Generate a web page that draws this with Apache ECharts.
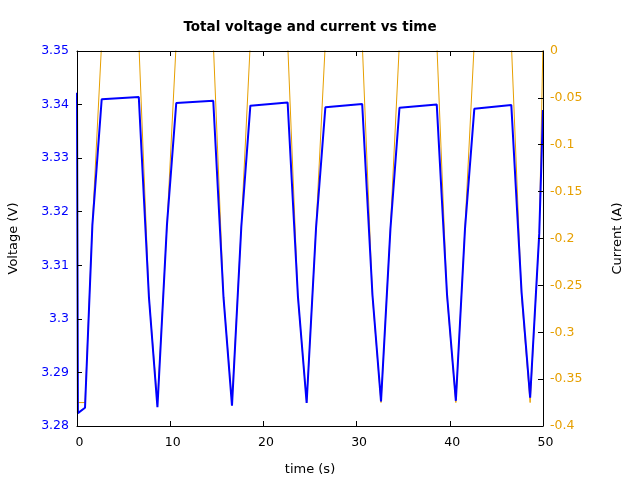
<!DOCTYPE html>
<html>
<head>
<meta charset="utf-8">
<script src="https://cdn.jsdelivr.net/npm/echarts@6/dist/echarts.min.js"></script>
<style>html,body{margin:0;padding:0;background:#fff}#c{width:640px;height:480px}</style>
</head>
<body>
<div id="c"></div>
<script>
var timeS = [0, 0.1, 0.86, 1.65, 2.65, 6.63, 7.72, 8.63, 9.65, 10.65, 14.62, 15.72, 16.63, 17.63, 18.6, 22.6, 23.7, 24.64, 25.65, 26.65, 30.6, 31.7, 32.62, 33.63, 34.6, 38.6, 39.7, 40.65, 41.63, 42.63, 46.6, 47.7, 48.62, 49.6, 50];
var voltage = [3.3422, 3.2824, 3.2834, 3.3175, 3.3410, 3.3414, 3.3040, 3.2835, 3.3175, 3.3403, 3.3407, 3.3040, 3.2838, 3.3172, 3.3398, 3.3404, 3.3043, 3.2843, 3.3170, 3.3395, 3.3401, 3.3045, 3.2846, 3.3168, 3.3394, 3.3400, 3.3046, 3.2847, 3.3168, 3.3392, 3.3399, 3.3050, 3.2853, 3.3160, 3.3390];
var current = [-0.375, -0.375, -0.375, -0.185, 0.01, 0.01, -0.262, -0.375, -0.187, 0.01, 0.01, -0.262, -0.375, -0.187, 0.01, 0.01, -0.262, -0.375, -0.188, 0.01, 0.01, -0.262, -0.375, -0.188, 0.01, 0.01, -0.262, -0.375, -0.188, 0.01, 0.01, -0.262, -0.375, -0.195, 0.01];
var titleText = 'Total voltage and current vs time';
var xName = 'time (s)';
var y1Name = 'Voltage (V)';
var y2Name = 'Current (A)';

var FONT = 'DejaVu Sans';
var BLUE = '#0000ff';
var ORANGE = '#e69f00';
function fmt(v){ return String(+(+v).toFixed(2)); }

var vData = timeS.map(function(t,i){ return [t, voltage[i]]; });
var iData = timeS.map(function(t,i){ return [t, current[i]]; });

var chart = echarts.init(document.getElementById('c'), null, {renderer:'canvas'});
chart.setOption({
  animation: false,
  backgroundColor: '#fff',
  graphic: [{
    type: 'text', x: 310, y: 27.5,
    style: { text: titleText, align: 'center', verticalAlign: 'middle',
             font: 'bold 13.5px "DejaVu Sans"', fill: '#000' }
  }],
  grid: { left: 77, right: 97, top: 51, bottom: 54, containLabel: false, outerBoundsMode: 'none' },
  xAxis: [{
    type: 'value', position: 'bottom', min: 0, max: 50, interval: 10,
    name: xName, nameLocation: 'middle', nameGap: 37,
    nameTextStyle: { fontFamily: FONT, fontSize: 13, color: '#000' },
    axisLine: { show: true, onZero: false, lineStyle: { color: '#000', width: 1 } },
    axisTick: { show: true, inside: true, length: 5, lineStyle: { color: '#000' } },
    axisLabel: { fontFamily: FONT, fontSize: 12.5, color: '#000', margin: 10, padding: [0,0,0,5], formatter: fmt },
    splitLine: { show: false }, z: 5
  }, {
    type: 'value', position: 'top', min: 0, max: 50, interval: 10,
    axisLine: { show: true, onZero: false, lineStyle: { color: '#000', width: 1 } },
    axisTick: { show: true, inside: true, length: 5, lineStyle: { color: '#000' } },
    axisLabel: { show: false },
    splitLine: { show: false }, z: 5
  }],
  yAxis: [{
    type: 'value', position: 'left', min: 3.28, max: 3.35, interval: 0.01,
    name: y1Name, nameLocation: 'middle', nameGap: 57, nameRotate: 90,
    nameTextStyle: { fontFamily: FONT, fontSize: 13, color: '#000' },
    axisLine: { show: true, onZero: false, lineStyle: { color: '#000', width: 1 } },
    axisTick: { show: true, inside: true, length: 5, lineStyle: { color: '#000' } },
    axisLabel: { fontFamily: FONT, fontSize: 12.5, color: BLUE, margin: 8, padding: [3,0,0,0], formatter: fmt },
    splitLine: { show: false }, z: 5
  }, {
    type: 'value', position: 'right', min: -0.4, max: 0, interval: 0.05,
    name: y2Name, nameLocation: 'middle', nameGap: 68, nameRotate: 90,
    nameTextStyle: { fontFamily: FONT, fontSize: 13, color: '#000' },
    axisLine: { show: true, onZero: false, lineStyle: { color: '#000', width: 1 } },
    axisTick: { show: true, inside: true, length: 5, lineStyle: { color: '#000' } },
    axisLabel: { fontFamily: FONT, fontSize: 12.5, color: ORANGE, margin: 7, padding: [3,0,0,0], formatter: fmt },
    splitLine: { show: false }, z: 5
  }],
  series: [{
    type: 'line', name: 'Current', xAxisIndex: 0, yAxisIndex: 1, data: iData,
    showSymbol: false, symbol: 'none', clip: true, lineStyle: { color: ORANGE, width: 1 }, z: 2
  }, {
    type: 'line', name: 'Voltage', xAxisIndex: 0, yAxisIndex: 0, data: vData,
    showSymbol: false, symbol: 'none', clip: true, lineStyle: { color: BLUE, width: 2 }, z: 3
  }]
});
</script>
</body>
</html>
